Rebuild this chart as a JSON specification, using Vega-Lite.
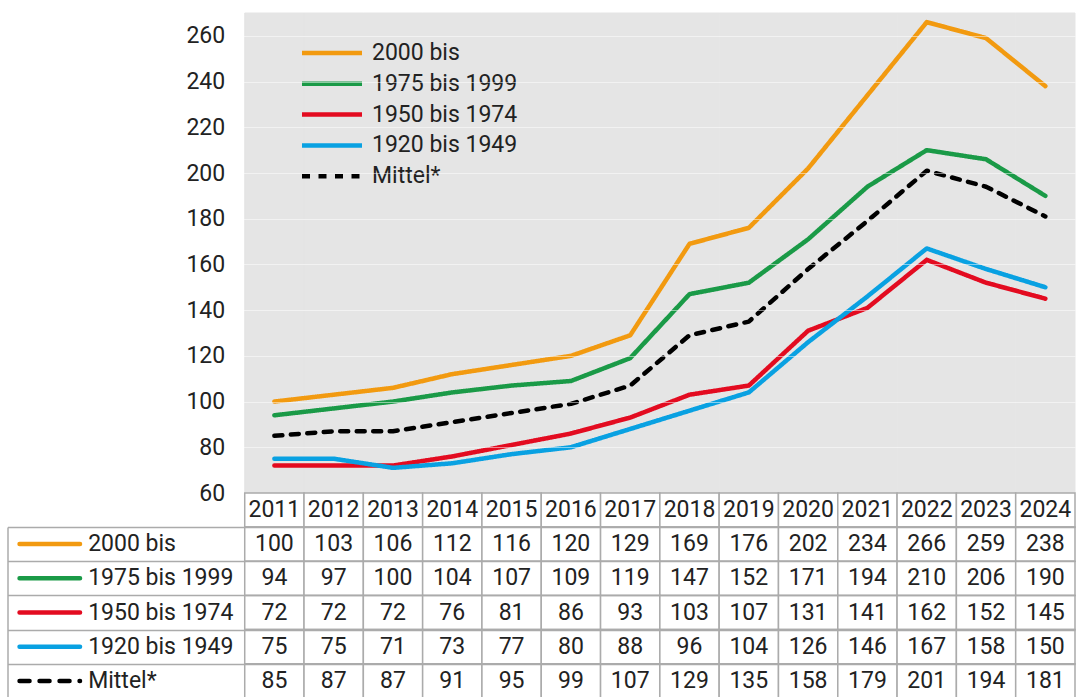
{
  "$schema": "https://vega.github.io/schema/vega-lite/v6.json",
  "background": "white",
  "padding": {"left": 7.5, "top": 12, "right": 0, "bottom": 0},
  "config": {"view": {"stroke": null}, "font": "Roboto", "text": {"font": "Roboto"}},
  "spacing": 0,
  "bounds": "flush",
  "datasets": {
    "values": [
      {"series": "2000 bis", "year": 2011, "value": 100}, {"series": "2000 bis", "year": 2012, "value": 103}, {"series": "2000 bis", "year": 2013, "value": 106}, {"series": "2000 bis", "year": 2014, "value": 112}, {"series": "2000 bis", "year": 2015, "value": 116}, {"series": "2000 bis", "year": 2016, "value": 120}, {"series": "2000 bis", "year": 2017, "value": 129}, {"series": "2000 bis", "year": 2018, "value": 169}, {"series": "2000 bis", "year": 2019, "value": 176}, {"series": "2000 bis", "year": 2020, "value": 202}, {"series": "2000 bis", "year": 2021, "value": 234}, {"series": "2000 bis", "year": 2022, "value": 266}, {"series": "2000 bis", "year": 2023, "value": 259}, {"series": "2000 bis", "year": 2024, "value": 238},
      {"series": "1975 bis 1999", "year": 2011, "value": 94}, {"series": "1975 bis 1999", "year": 2012, "value": 97}, {"series": "1975 bis 1999", "year": 2013, "value": 100}, {"series": "1975 bis 1999", "year": 2014, "value": 104}, {"series": "1975 bis 1999", "year": 2015, "value": 107}, {"series": "1975 bis 1999", "year": 2016, "value": 109}, {"series": "1975 bis 1999", "year": 2017, "value": 119}, {"series": "1975 bis 1999", "year": 2018, "value": 147}, {"series": "1975 bis 1999", "year": 2019, "value": 152}, {"series": "1975 bis 1999", "year": 2020, "value": 171}, {"series": "1975 bis 1999", "year": 2021, "value": 194}, {"series": "1975 bis 1999", "year": 2022, "value": 210}, {"series": "1975 bis 1999", "year": 2023, "value": 206}, {"series": "1975 bis 1999", "year": 2024, "value": 190},
      {"series": "1950 bis 1974", "year": 2011, "value": 72}, {"series": "1950 bis 1974", "year": 2012, "value": 72}, {"series": "1950 bis 1974", "year": 2013, "value": 72}, {"series": "1950 bis 1974", "year": 2014, "value": 76}, {"series": "1950 bis 1974", "year": 2015, "value": 81}, {"series": "1950 bis 1974", "year": 2016, "value": 86}, {"series": "1950 bis 1974", "year": 2017, "value": 93}, {"series": "1950 bis 1974", "year": 2018, "value": 103}, {"series": "1950 bis 1974", "year": 2019, "value": 107}, {"series": "1950 bis 1974", "year": 2020, "value": 131}, {"series": "1950 bis 1974", "year": 2021, "value": 141}, {"series": "1950 bis 1974", "year": 2022, "value": 162}, {"series": "1950 bis 1974", "year": 2023, "value": 152}, {"series": "1950 bis 1974", "year": 2024, "value": 145},
      {"series": "1920 bis 1949", "year": 2011, "value": 75}, {"series": "1920 bis 1949", "year": 2012, "value": 75}, {"series": "1920 bis 1949", "year": 2013, "value": 71}, {"series": "1920 bis 1949", "year": 2014, "value": 73}, {"series": "1920 bis 1949", "year": 2015, "value": 77}, {"series": "1920 bis 1949", "year": 2016, "value": 80}, {"series": "1920 bis 1949", "year": 2017, "value": 88}, {"series": "1920 bis 1949", "year": 2018, "value": 96}, {"series": "1920 bis 1949", "year": 2019, "value": 104}, {"series": "1920 bis 1949", "year": 2020, "value": 126}, {"series": "1920 bis 1949", "year": 2021, "value": 146}, {"series": "1920 bis 1949", "year": 2022, "value": 167}, {"series": "1920 bis 1949", "year": 2023, "value": 158}, {"series": "1920 bis 1949", "year": 2024, "value": 150},
      {"series": "Mittel*", "year": 2011, "value": 85}, {"series": "Mittel*", "year": 2012, "value": 87}, {"series": "Mittel*", "year": 2013, "value": 87}, {"series": "Mittel*", "year": 2014, "value": 91}, {"series": "Mittel*", "year": 2015, "value": 95}, {"series": "Mittel*", "year": 2016, "value": 99}, {"series": "Mittel*", "year": 2017, "value": 107}, {"series": "Mittel*", "year": 2018, "value": 129}, {"series": "Mittel*", "year": 2019, "value": 135}, {"series": "Mittel*", "year": 2020, "value": 158}, {"series": "Mittel*", "year": 2021, "value": 179}, {"series": "Mittel*", "year": 2022, "value": 201}, {"series": "Mittel*", "year": 2023, "value": 194}, {"series": "Mittel*", "year": 2024, "value": 181}
    ]
  },
  "resolve": {"scale": {"x": "independent", "y": "independent", "color": "independent", "strokeDash": "independent"}},
  "vconcat": [
    {
      "width": 1067.5,
      "height": 480,
      "data": {"name": "values"},
      "layer": [
        {
          "transform": [{"aggregate": [{"op": "count", "as": "n"}], "groupby": ["year"]}],
          "mark": {"type": "bar", "color": "#e5e5e5", "stroke": "#e5e5e5", "strokeWidth": 1},
          "encoding": {
            "x": {"field": "year", "type": "nominal", "axis": null,
                  "scale": {"type": "band", "domain": ["L1", "L2", "L3", "L4", 2011, 2012, 2013, 2014, 2015, 2016, 2017, 2018, 2019, 2020, 2021, 2022, 2023, 2024], "paddingInner": 0, "paddingOuter": 0}},
            "y": {"datum": 270, "type": "quantitative", "scale": {"domain": [60, 270], "nice": false, "zero": false},
                  "axis": {"values": [60, 80, 100, 120, 140, 160, 180, 200, 220, 240, 260], "offset": -237.2, "domain": false, "ticks": false, "tickSize": 0, "labelPadding": 20, "labelFontSize": 23, "labelColor": "#222222", "labelFont": "Roboto", "grid": true, "gridColor": "#ffffff", "gridOpacity": 0.5, "title": null, "zindex": 1}},
            "y2": {"datum": 60}
          }
        },
        {
          "mark": {"type": "line", "strokeWidth": 4.5, "strokeCap": "round", "strokeJoin": "round", "zindex": 2},
          "encoding": {
            "x": {"field": "year", "type": "nominal", "axis": null},
            "y": {"field": "value", "type": "quantitative"},
            "color": {"field": "series", "type": "nominal",
                      "scale": {"domain": ["2000 bis", "1975 bis 1999", "1950 bis 1974", "1920 bis 1949", "Mittel*"], "range": ["#f29a10", "#1a9a47", "#e30b20", "#09a1e2", "#000000"]},
                      "legend": {"orient": "none", "legendX": 313, "legendY": 28.5, "title": null, "symbolType": "M-4,0L4,0", "symbolSize": 225, "symbolStrokeWidth": 4.5, "labelFontSize": 23, "labelFont": "Roboto", "labelColor": "#222222", "labelOffset": 28.5, "rowPadding": 6.8, "padding": 0}},
            "strokeDash": {"field": "series", "type": "nominal",
                      "scale": {"domain": ["2000 bis", "1975 bis 1999", "1950 bis 1974", "1920 bis 1949", "Mittel*"], "range": [[1, 0], [1, 0], [1, 0], [1, 0], [8, 8.5]]},
                      "legend": {"orient": "none", "legendX": 313, "legendY": 28.5, "title": null, "symbolType": "M-4,0L4,0", "symbolSize": 225, "symbolStrokeWidth": 4.5, "labelFontSize": 23, "labelFont": "Roboto", "labelColor": "#222222", "labelOffset": 28.5, "rowPadding": 6.8, "padding": 0}}
          }
        }
      ]
    },
    {
      "width": 1067.5,
      "height": 34,
      "data": {"name": "values"},
      "transform": [{"aggregate": [{"op": "count", "as": "n"}], "groupby": ["year"]}],
      "encoding": {
        "x": {"field": "year", "type": "nominal", "axis": null,
              "scale": {"type": "band", "domain": ["L1", "L2", "L3", "L4", 2011, 2012, 2013, 2014, 2015, 2016, 2017, 2018, 2019, 2020, 2021, 2022, 2023, 2024], "paddingInner": 0, "paddingOuter": 0}}
      },
      "layer": [
        {"mark": {"type": "rect", "fill": "white", "stroke": "#ababab", "strokeWidth": 1.5}},
        {
          "mark": {"type": "text", "fontSize": 23, "color": "#222222", "baseline": "middle", "align": "center"},
          "encoding": {"text": {"field": "year", "type": "nominal"}}
        }
      ]
    },
    {
      "width": 1067.5,
      "height": 171,
      "data": {"name": "values"},
      "encoding": {
        "y": {"field": "series", "type": "nominal",
              "scale": {"type": "band", "domain": ["2000 bis", "1975 bis 1999", "1950 bis 1974", "1920 bis 1949", "Mittel*"], "paddingInner": 0, "paddingOuter": 0},
              "axis": {"labels": false, "ticks": false, "domain": true, "domainColor": "#ababab", "domainWidth": 1.5, "grid": true, "gridColor": "#ababab", "gridWidth": 1.5, "gridOpacity": 1, "tickBand": "extent", "title": null}}
      },
      "layer": [
        {
          "mark": {"type": "rect", "fill": "white", "stroke": "#ababab", "strokeWidth": 1.5},
          "encoding": {
            "x": {"field": "year", "type": "nominal", "axis": null,
                  "scale": {"type": "band", "domain": ["L1", "L2", "L3", "L4", 2011, 2012, 2013, 2014, 2015, 2016, 2017, 2018, 2019, 2020, 2021, 2022, 2023, 2024], "paddingInner": 0, "paddingOuter": 0}}
          }
        },
        {
          "mark": {"type": "text", "fontSize": 23, "color": "#222222", "baseline": "middle", "align": "center"},
          "encoding": {
            "x": {"field": "year", "type": "nominal"},
            "text": {"field": "value", "type": "quantitative"}
          }
        },
        {
          "transform": [{"aggregate": [{"op": "count", "as": "n"}], "groupby": ["series"]}],
          "mark": {"type": "text", "fontSize": 23, "color": "#222222", "baseline": "middle", "align": "left"},
          "encoding": {
            "x": {"datum": "L2", "type": "nominal", "bandPosition": 0.36},
            "text": {"field": "series", "type": "nominal"}
          }
        },
        {
          "transform": [{"aggregate": [{"op": "count", "as": "n"}], "groupby": ["series"]}],
          "mark": {"type": "point", "shape": "M-1,0L1,0", "size": 3660, "filled": false, "strokeWidth": 4.5, "strokeCap": "round", "opacity": 1},
          "encoding": {
            "x": {"datum": "L1", "type": "nominal", "bandPosition": 0.713},
            "color": {"field": "series", "type": "nominal", "legend": null,
                      "scale": {"domain": ["2000 bis", "1975 bis 1999", "1950 bis 1974", "1920 bis 1949", "Mittel*"], "range": ["#f29a10", "#1a9a47", "#e30b20", "#09a1e2", "#000000"]}},
            "strokeDash": {"field": "series", "type": "nominal", "legend": null,
                      "scale": {"domain": ["2000 bis", "1975 bis 1999", "1950 bis 1974", "1920 bis 1949", "Mittel*"], "range": [[1, 0], [1, 0], [1, 0], [1, 0], [10, 10]]}}
          }
        }
      ]
    }
  ]
}
